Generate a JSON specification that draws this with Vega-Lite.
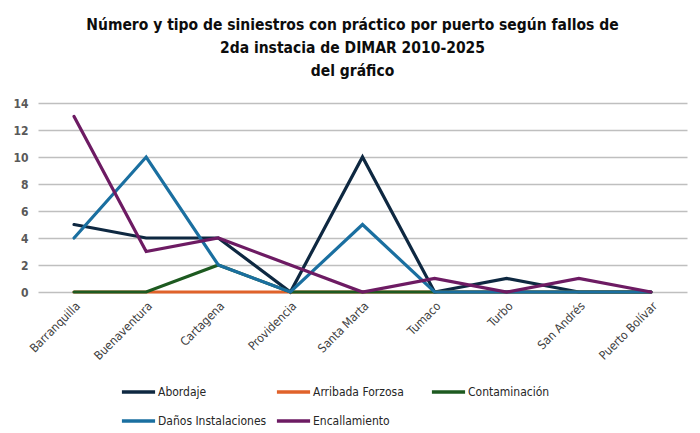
{
  "$schema": "https://vega.github.io/schema/vega-lite/v6.json",
  "width": 649,
  "height": 189,
  "padding": {"left": 12, "top": 17, "right": 8, "bottom": 0},
  "background": "white",
  "title": {
    "text": ["Número y tipo de siniestros con práctico por puerto según fallos de", "2da instacia de DIMAR 2010-2025", "del gráfico"],
    "font": "DejaVu Sans Condensed",
    "fontSize": 15.5,
    "fontWeight": "bold",
    "color": "#0d0d0d",
    "lineHeight": 23,
    "anchor": "middle",
    "dx": -10,
    "offset": 18
  },
  "data": {
    "values": [
      {"puerto": "Barranquilla", "tipo": "Abordaje", "valor": 5},
      {"puerto": "Buenaventura", "tipo": "Abordaje", "valor": 4},
      {"puerto": "Cartagena", "tipo": "Abordaje", "valor": 4},
      {"puerto": "Providencia", "tipo": "Abordaje", "valor": 0},
      {"puerto": "Santa Marta", "tipo": "Abordaje", "valor": 10},
      {"puerto": "Tumaco", "tipo": "Abordaje", "valor": 0},
      {"puerto": "Turbo", "tipo": "Abordaje", "valor": 1},
      {"puerto": "San Andrés", "tipo": "Abordaje", "valor": 0},
      {"puerto": "Puerto Bolívar", "tipo": "Abordaje", "valor": 0},
      {"puerto": "Barranquilla", "tipo": "Arribada Forzosa", "valor": 0},
      {"puerto": "Buenaventura", "tipo": "Arribada Forzosa", "valor": 0},
      {"puerto": "Cartagena", "tipo": "Arribada Forzosa", "valor": 0},
      {"puerto": "Providencia", "tipo": "Arribada Forzosa", "valor": 0},
      {"puerto": "Santa Marta", "tipo": "Arribada Forzosa", "valor": 0},
      {"puerto": "Tumaco", "tipo": "Arribada Forzosa", "valor": 0},
      {"puerto": "Turbo", "tipo": "Arribada Forzosa", "valor": 0},
      {"puerto": "San Andrés", "tipo": "Arribada Forzosa", "valor": 0},
      {"puerto": "Puerto Bolívar", "tipo": "Arribada Forzosa", "valor": 0},
      {"puerto": "Barranquilla", "tipo": "Contaminación", "valor": 0},
      {"puerto": "Buenaventura", "tipo": "Contaminación", "valor": 0},
      {"puerto": "Cartagena", "tipo": "Contaminación", "valor": 2},
      {"puerto": "Providencia", "tipo": "Contaminación", "valor": 0},
      {"puerto": "Santa Marta", "tipo": "Contaminación", "valor": 0},
      {"puerto": "Tumaco", "tipo": "Contaminación", "valor": 0},
      {"puerto": "Turbo", "tipo": "Contaminación", "valor": 0},
      {"puerto": "San Andrés", "tipo": "Contaminación", "valor": 0},
      {"puerto": "Puerto Bolívar", "tipo": "Contaminación", "valor": 0},
      {"puerto": "Barranquilla", "tipo": "Daños Instalaciones", "valor": 4},
      {"puerto": "Buenaventura", "tipo": "Daños Instalaciones", "valor": 10},
      {"puerto": "Cartagena", "tipo": "Daños Instalaciones", "valor": 2},
      {"puerto": "Providencia", "tipo": "Daños Instalaciones", "valor": 0},
      {"puerto": "Santa Marta", "tipo": "Daños Instalaciones", "valor": 5},
      {"puerto": "Tumaco", "tipo": "Daños Instalaciones", "valor": 0},
      {"puerto": "Turbo", "tipo": "Daños Instalaciones", "valor": 0},
      {"puerto": "San Andrés", "tipo": "Daños Instalaciones", "valor": 0},
      {"puerto": "Puerto Bolívar", "tipo": "Daños Instalaciones", "valor": 0},
      {"puerto": "Barranquilla", "tipo": "Encallamiento", "valor": 13},
      {"puerto": "Buenaventura", "tipo": "Encallamiento", "valor": 3},
      {"puerto": "Cartagena", "tipo": "Encallamiento", "valor": 4},
      {"puerto": "Providencia", "tipo": "Encallamiento", "valor": 2},
      {"puerto": "Santa Marta", "tipo": "Encallamiento", "valor": 0},
      {"puerto": "Tumaco", "tipo": "Encallamiento", "valor": 1},
      {"puerto": "Turbo", "tipo": "Encallamiento", "valor": 0},
      {"puerto": "San Andrés", "tipo": "Encallamiento", "valor": 1},
      {"puerto": "Puerto Bolívar", "tipo": "Encallamiento", "valor": 0}
    ]
  },
  "mark": {"type": "line", "strokeWidth": 3.2, "strokeCap": "round", "strokeJoin": "miter"},
  "encoding": {
    "x": {
      "field": "puerto",
      "type": "nominal",
      "sort": null,
      "scale": {"paddingInner": 0, "paddingOuter": 0},
      "axis": {
        "title": null,
        "labelAngle": -45,
        "ticks": false,
        "domain": false,
        "grid": false,
        "labelFont": "DejaVu Sans Condensed",
        "labelFontSize": 12,
        "labelColor": "#404040",
        "labelPadding": 8
      }
    },
    "y": {
      "field": "valor",
      "type": "quantitative",
      "scale": {"domain": [0, 14]},
      "axis": {
        "title": null,
        "values": [0, 2, 4, 6, 8, 10, 12, 14],
        "ticks": false,
        "domain": false,
        "gridColor": "#bfbfbf",
        "gridWidth": 1.5,
        "labelFont": "DejaVu Sans Condensed",
        "labelFontSize": 12,
        "labelFontWeight": "bold",
        "labelColor": "#595959",
        "labelPadding": 10
      }
    },
    "color": {
      "field": "tipo",
      "type": "nominal",
      "scale": {
        "domain": ["Abordaje", "Arribada Forzosa", "Contaminación", "Daños Instalaciones", "Encallamiento"],
        "range": ["#0e2841", "#e0622a", "#1d5a20", "#1a6fa0", "#6d1b63"]
      },
      "legend": {
        "title": null,
        "orient": "none",
        "legendX": 82,
        "legendY": 281,
        "direction": "horizontal",
        "columns": 3,
        "gridAlign": "all",
        "symbolType": "stroke",
        "symbolStrokeWidth": 3.5,
        "symbolSize": 1100,
        "clipHeight": 16,
        "labelFont": "DejaVu Sans Condensed",
        "labelFontSize": 12,
        "labelColor": "#262626",
        "labelOffset": 1,
        "columnPadding": 8,
        "rowPadding": 13
      }
    }
  },
  "config": {
    "view": {"stroke": null}
  }
}
